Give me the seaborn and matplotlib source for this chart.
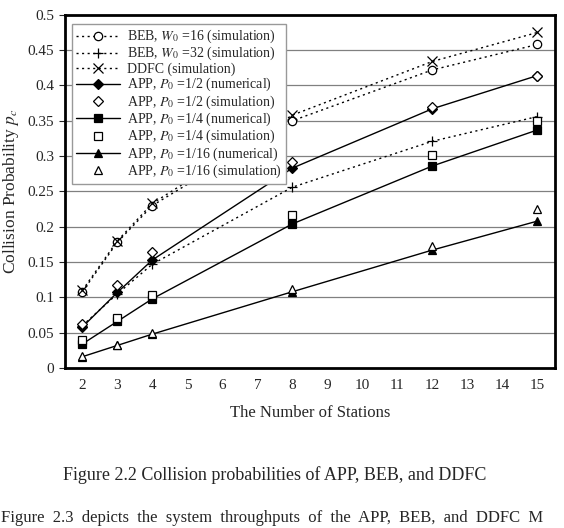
import matplotlib
matplotlib.use("Agg")
import matplotlib.pyplot as plt
import seaborn as sns
import numpy as np

# Data
stations = [2, 3, 4, 8, 12, 15]
tick_labels = [str(n) for n in range(2, 16)]

beb16_sim = [0.108, 0.178, 0.230, 0.350, 0.422, 0.458]
beb32_sim = [0.060, 0.105, 0.147, 0.256, 0.321, 0.356]
ddfc_sim = [0.110, 0.180, 0.233, 0.358, 0.434, 0.475]
app2_num = [0.058, 0.107, 0.153, 0.283, 0.367, 0.414]
app2_sim = [0.063, 0.118, 0.164, 0.292, 0.370, 0.414]
app4_num = [0.034, 0.066, 0.098, 0.204, 0.286, 0.337]
app4_sim = [0.040, 0.071, 0.103, 0.217, 0.302, 0.349]
app16_num = [0.016, 0.032, 0.048, 0.108, 0.167, 0.208]
app16_sim = [0.017, 0.033, 0.049, 0.112, 0.173, 0.225]

sns.set_style("white")
plt.rcParams['font.family'] = ['Liberation Serif', 'DejaVu Serif']
plt.rcParams['mathtext.fontset'] = 'stix'

fig = plt.figure(figsize=(5.64, 5.28), dpi=100)
ax = fig.add_axes([0.115, 0.303, 0.869, 0.669])

dot = (1.5, 2.5)
series = [
    ("BEB, $W_0$ =16 (simulation)", beb16_sim, 'o', 'white', True, dot),
    ("BEB, $W_0$ =32 (simulation)", beb32_sim, '+', 'black', True, dot),
    ("DDFC (simulation)", ddfc_sim, 'x', 'black', True, dot),
    ("APP, $P_0$ =1/2 (numerical)", app2_num, 'D', 'black', True, None),
    ("APP, $P_0$ =1/2 (simulation)", app2_sim, 'D', 'white', False, None),
    ("APP, $P_0$ =1/4 (numerical)", app4_num, 's', 'black', True, None),
    ("APP, $P_0$ =1/4 (simulation)", app4_sim, 's', 'white', False, None),
    ("APP, $P_0$ =1/16 (numerical)", app16_num, '^', 'black', True, None),
    ("APP, $P_0$ =1/16 (simulation)", app16_sim, '^', 'white', False, None),
]

for label, vals, mk, fc, has_line, dashes in series:
    kw = dict(marker=mk, color='black', markerfacecolor=fc, markeredgecolor='black',
              markeredgewidth=0.9, linewidth=1.0)
    size = 5 if mk in ('D',) else 6
    if mk in ('+', 'x'):
        size = 7
    kw['markersize'] = size
    if not has_line:
        kw['linestyle'] = 'none'
    elif dashes is not None:
        kw['dashes'] = dashes
    else:
        kw['linestyle'] = '-'
    sns.lineplot(x=stations, y=vals, ax=ax, label=label, **kw)

ax.set_xlim(1.5, 15.5)
ax.set_ylim(0, 0.5)
ax.set_xticks(range(2, 16))
ax.set_xticklabels(tick_labels)
ax.set_xticks(np.arange(1.5, 16, 1.0), minor=True)
ax.tick_params(axis='x', which='major', length=0, labelsize=11, pad=8)
ax.tick_params(axis='x', which='minor', direction='in', length=4, width=0.8)
ax.set_yticks(np.arange(0, 0.51, 0.05))
ax.set_yticklabels(['0', '0.05', '0.1', '0.15', '0.2', '0.25', '0.3', '0.35', '0.4', '0.45', '0.5'])
ax.tick_params(axis='y', which='major', direction='out', length=4, width=0.8, labelsize=11, left=True)
for v in np.arange(0.05, 0.5, 0.05):
    ax.axhline(v, color='#808080', linewidth=0.9, zorder=0)
for sp in ax.spines.values():
    sp.set_color('black')
    sp.set_linewidth(2.0)

ax.set_xlabel("The Number of Stations", fontsize=12, labelpad=9)
ax.set_ylabel("Collision Probability $p_c$", fontsize=12.5, labelpad=5)

leg = ax.legend(loc='upper left', bbox_to_anchor=(0.014, 0.975), borderaxespad=0,
                fontsize=10, numpoints=1, handlelength=3.2, fancybox=False,
                framealpha=1, edgecolor='#999999', labelspacing=0.0,
                handleheight=0.5, handletextpad=0.5, borderpad=0.3)
leg.get_frame().set_linewidth(1.0)

fig.text(0.487, 0.1, "Figure 2.2 Collision probabilities of APP, BEB, and DDFC",
         ha='center', va='center', fontsize=13)
fig.text(0.002, 0.004, "Figure  2.3  depicts  the  system  throughputs  of  the  APP,  BEB,  and  DDFC  M",
         ha='left', va='bottom', fontsize=12)

fig.savefig("out.png", dpi=100)
